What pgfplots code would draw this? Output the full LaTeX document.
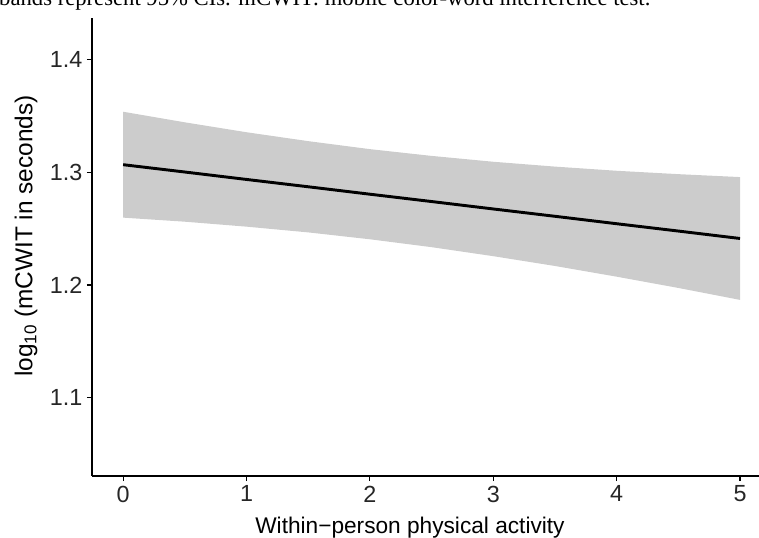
\documentclass[border=0pt]{standalone}
\usepackage{fontspec}
\setmainfont{Liberation Sans}
\newfontfamily\capfont{Liberation Serif}
\usepackage{pgfplots}
\pgfplotsset{compat=1.18}

% fitted line and 95% band
\pgfplotstableread{
x    fit     lo      hi
0.0  1.3068  1.2598  1.3538
0.5  1.3003  1.2562  1.3444
1.0  1.2937  1.2518  1.3356
1.5  1.2872  1.2467  1.3277
2.0  1.2806  1.2406  1.3206
2.5  1.2741  1.2336  1.3146
3.0  1.2675  1.2256  1.3094
3.5  1.2610  1.2169  1.3051
4.0  1.2544  1.2074  1.3014
4.5  1.2479  1.1974  1.2984
5.0  1.2413  1.1868  1.2958
}\fitdata

\begin{document}
\begin{tikzpicture}
\begin{axis}[
    scale only axis,
    width=500pt, height=343.3pt,
    xmin=-0.25, xmax=5.154,
    ymin=1.0307, ymax=1.437,
    axis lines*=left,
    axis line style={line width=1.2pt, black},
    xtick={0,1,2,3,4,5},
    ytick={1.1,1.2,1.3,1.4},
    yticklabel style={/pgf/number format/fixed, /pgf/number format/precision=1, /pgf/number format/fixed zerofill},
    tick style={line width=0.9pt, black},
    tick align=outside,
    major tick length=4pt,
    /pgf/number format/assume math mode=true,
    ticklabel style={font=\fontsize{17.5}{20}\selectfont, color=black!85},
    xlabel={Within\textminus person physical activity},
    ylabel={log\textsubscript{10} (mCWIT in seconds)},
    xlabel style={font=\fontsize{17}{20}\selectfont, at={(axis description cs:0.4765,0)}, anchor=base, yshift=-43pt},
    ylabel style={font=\fontsize{18.3}{21}\selectfont, at={([xshift=-45pt]axis description cs:0,0.524)}, anchor=base, rotate=0},
    clip=false,
]
\addplot[fill=gray!40, draw=none] coordinates {
  (0.0,1.3538) (0.5,1.3444) (1.0,1.3356) (1.5,1.3277) (2.0,1.3206) (2.5,1.3146)
  (3.0,1.3094) (3.5,1.3051) (4.0,1.3014) (4.5,1.2984) (5.0,1.2958)
  (5.0,1.1868) (4.5,1.1974) (4.0,1.2074) (3.5,1.2169) (3.0,1.2256) (2.5,1.2336)
  (2.0,1.2406) (1.5,1.2467) (1.0,1.2518) (0.5,1.2562) (0.0,1.2598)
} -- cycle;
\addplot[black, line width=2.2pt] table[x=x, y=fit] {\fitdata};
\coordinate (sw) at (rel axis cs:0,0);
\coordinate (ne) at (rel axis cs:1,1);
\end{axis}
\node[anchor=base west, inner sep=0pt, font=\capfont\fontsize{17}{20}\selectfont]
  at ([xshift=-70pt, yshift=9pt]ne -| sw) {bands represent 95\% CIs. mCWIT: mobile color-word interference test.};
\pgfresetboundingbox
\path[use as bounding box] ([xshift=-69.2pt, yshift=-46pt]sw) rectangle ([yshift=13.5pt]ne);
\end{tikzpicture}
\end{document}
